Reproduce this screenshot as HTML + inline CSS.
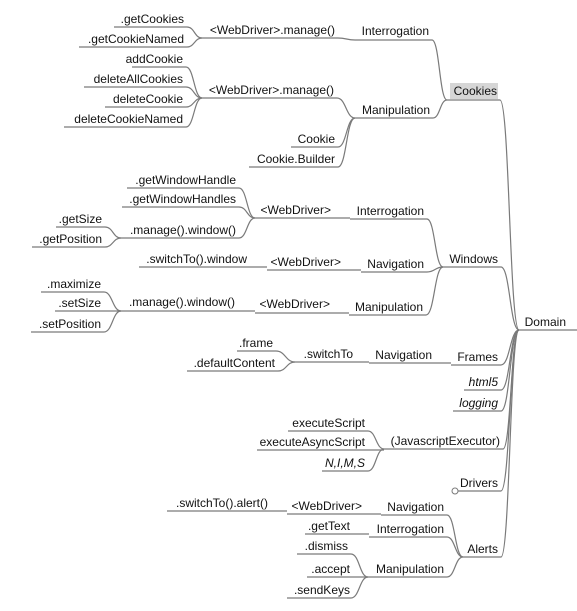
<!DOCTYPE html>
<html><head><meta charset="utf-8"><style>
html,body{margin:0;padding:0;background:#fff;}
svg{display:block;}
text{font-family:"Liberation Sans",Arial,sans-serif;font-size:12px;fill:#111;text-anchor:end;}
.i{font-style:italic;}
path{fill:none;stroke:#7a7a7a;stroke-width:1.2;}
</style></head><body>
<svg width="577" height="611" viewBox="0 0 577 611" xmlns="http://www.w3.org/2000/svg">
<rect x="450" y="83" width="48" height="16" fill="#d6d6d6"/>
<path d="M519 330 H577"/>
<path d="M447 100 H500 C509.5 100 509.5 330 519 330"/>
<path d="M355 40 H432 C439.5 40 439.5 100 447 100"/>
<path d="M202 38 H338 C346.5 38 346.5 40 355 40"/>
<path d="M114 27 H187 C194.5 27 194.5 38 202 38"/>
<path d="M79 47 H187 C194.5 47 194.5 38 202 38"/>
<path d="M355 118 H433 C440 118 440 100 447 100"/>
<path d="M202 98 H337 C346 98 346 118 355 118"/>
<path d="M132 67 H186 C194 67 194 98 202 98"/>
<path d="M84 87 H186 C194 87 194 98 202 98"/>
<path d="M105 107 H186 C194 107 194 98 202 98"/>
<path d="M64 127 H186 C194 127 194 98 202 98"/>
<path d="M291 147 H338 C346.5 147 346.5 118 355 118"/>
<path d="M249 167 H338 C346.5 167 346.5 118 355 118"/>
<path d="M443 267 H501 C510 267 510 330 519 330"/>
<path d="M350 219 H427 C435 219 435 267 443 267"/>
<path d="M255 218 H350"/>
<path d="M127 188 H239 C247 188 247 218 255 218"/>
<path d="M122 207 H239 C247 207 247 218 255 218"/>
<path d="M121 238 H239 C247 238 247 218 255 218"/>
<path d="M56 227 H105 C113 227 113 238 121 238"/>
<path d="M32 247 H105 C113 247 113 238 121 238"/>
<path d="M361 272 H427 C435 272 435 267 443 267"/>
<path d="M267 270 H361"/>
<path d="M139 267 H267"/>
<path d="M349 315 H426 C434.5 315 434.5 267 443 267"/>
<path d="M255 313 H349"/>
<path d="M121 311 H255"/>
<path d="M41 292 H104 C112.5 292 112.5 311 121 311"/>
<path d="M55 311 H121"/>
<path d="M31 332 H104 C112.5 332 112.5 311 121 311"/>
<path d="M451 365 H501 C510 365 510 330 519 330"/>
<path d="M369 363 H451"/>
<path d="M295 362 H369"/>
<path d="M237 351 H276 C285.5 351 285.5 362 295 362"/>
<path d="M187 371 H278 C286.5 371 286.5 362 295 362"/>
<path d="M464 390 H501 C510 390 510 330 519 330"/>
<path d="M453 411 H501 C510 411 510 330 519 330"/>
<path d="M384 449 H503 C511 449 511 330 519 330"/>
<path d="M288 431 H368 C376 431 376 449 384 449"/>
<path d="M257 450 H384"/>
<path d="M322 471 H368 C376 471 376 449 384 449"/>
<path d="M458 491 H501 C510 491 510 330 519 330"/>
<circle cx="455" cy="491" r="3" fill="#fff" stroke="#7a7a7a" stroke-width="1"/>
<path d="M463 557 H501 C510 557 510 330 519 330"/>
<path d="M381 515 H447 C455 515 455 557 463 557"/>
<path d="M287 514 H381"/>
<path d="M167 511 H287"/>
<path d="M369 537 H447 C455 537 455 557 463 557"/>
<path d="M305 534 H369"/>
<path d="M368 577 H447 C455 577 455 557 463 557"/>
<path d="M297 554 H351 C359.5 554 359.5 577 368 577"/>
<path d="M307 577 H368"/>
<path d="M287 598 H351 C359.5 598 359.5 577 368 577"/>

<text x="566" y="326">Domain</text>
<text x="497" y="95">Cookies</text>
<text x="429" y="35">Interrogation</text>
<text x="335" y="34">&lt;WebDriver&gt;.manage()</text>
<text x="184" y="23">.getCookies</text>
<text x="184" y="43">.getCookieNamed</text>
<text x="430" y="114">Manipulation</text>
<text x="334" y="94">&lt;WebDriver&gt;.manage()</text>
<text x="183" y="63">addCookie</text>
<text x="183" y="83">deleteAllCookies</text>
<text x="183" y="103">deleteCookie</text>
<text x="183" y="123">deleteCookieNamed</text>
<text x="335" y="143">Cookie</text>
<text x="335" y="163">Cookie.Builder</text>
<text x="498" y="263">Windows</text>
<text x="424" y="215">Interrogation</text>
<text x="331" y="214">&lt;WebDriver&gt;</text>
<text x="236" y="184">.getWindowHandle</text>
<text x="236" y="203">.getWindowHandles</text>
<text x="236" y="234">.manage().window()</text>
<text x="102" y="223">.getSize</text>
<text x="102" y="243">.getPosition</text>
<text x="424" y="268">Navigation</text>
<text x="341" y="266">&lt;WebDriver&gt;</text>
<text x="247" y="263">.switchTo().window</text>
<text x="423" y="311">Manipulation</text>
<text x="330" y="308">&lt;WebDriver&gt;</text>
<text x="235" y="306">.manage().window()</text>
<text x="101" y="288">.maximize</text>
<text x="101" y="307">.setSize</text>
<text x="101" y="328">.setPosition</text>
<text x="498" y="361">Frames</text>
<text x="432" y="359">Navigation</text>
<text x="353" y="358">.switchTo</text>
<text x="273" y="347">.frame</text>
<text x="275" y="367">.defaultContent</text>
<text class="i" x="498" y="386">html5</text>
<text class="i" x="498" y="407">logging</text>
<text x="500" y="445">(JavascriptExecutor)</text>
<text x="365" y="427">executeScript</text>
<text x="365" y="446">executeAsyncScript</text>
<text class="i" x="365" y="467">N,I,M,S</text>
<text x="498" y="487">Drivers</text>
<text x="498" y="553">Alerts</text>
<text x="444" y="511">Navigation</text>
<text x="362" y="510">&lt;WebDriver&gt;</text>
<text x="268" y="507">.switchTo().alert()</text>
<text x="444" y="533">Interrogation</text>
<text x="350" y="530">.getText</text>
<text x="444" y="573">Manipulation</text>
<text x="348" y="550">.dismiss</text>
<text x="350" y="573">.accept</text>
<text x="350" y="594">.sendKeys</text>
</svg>
</body></html>
